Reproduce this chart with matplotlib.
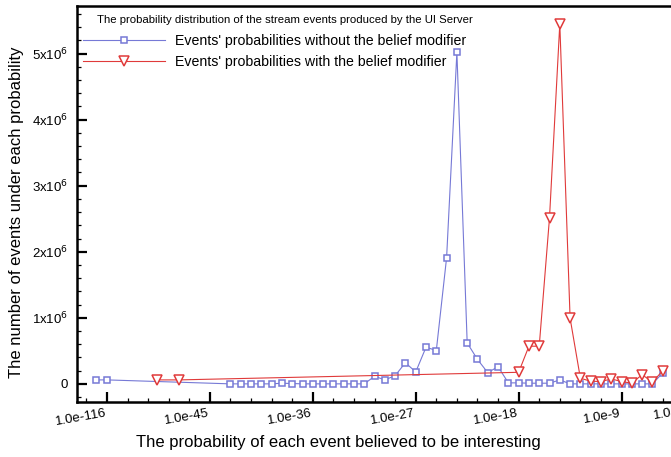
import matplotlib
matplotlib.use("Agg")
import matplotlib.pyplot as plt
from matplotlib.ticker import MultipleLocator, FixedLocator, FuncFormatter
import numpy as np

plt.rcParams["font.family"] = ["Liberation Sans", "DejaVu Sans"]

# x is the decade position on the chart's own axis (one major step = 9 decades)
blue_x_left = [-55.0, -54.0]
blue_y_left = [0.06e6, 0.06e6]
blue_x_main = [-43.2 + 0.9 * k for k in range(43)]
blue_y_main = [0, 0, 0, 0, 0, 0.01e6, 0.005e6, 0, 0, 0, 0, 0, 0, 0,
               0.115e6, 0.06e6, 0.125e6, 0.32e6, 0.18e6, 0.555e6, 0.505e6,
               1.91e6, 5.02e6, 0.62e6, 0.37e6, 0.17e6, 0.26e6,
               0.015e6, 0.015e6, 0.01e6, 0.01e6, 0.01e6, 0.06e6,
               0, 0, 0, 0, 0, 0, 0, 0, 0, 0.165e6]
blue_x = blue_x_left + blue_x_main
blue_y = blue_y_left + blue_y_main

red_x_left = [-49.6, -47.7]
red_y_left = [0.06e6, 0.06e6]
red_x_main = [-18.0 + 0.9 * k for k in range(15)]
red_y_main = [0.175e6, 0.57e6, 0.57e6, 2.515e6, 5.45e6, 0.995e6, 0.085e6,
              0.04e6, 0.035e6, 0.075e6, 0.035e6, 0.01e6, 0.14e6, 0.025e6, 0.2e6]
red_x = red_x_left + red_x_main
red_y = red_y_left + red_y_main

xtick_pos = [-54, -45, -36, -27, -18, -9, -4.5]
xtick_labels = ["1.0e-116", "1.0e-45", "1.0e-36", "1.0e-27", "1.0e-18", "1.0e-9", "1.0"]

legend_title = "The probability distribution of the stream events produced by the UI Server"
label_blue = "Events' probabilities without the belief modifier"
label_red = "Events' probabilities with the belief modifier"

blue = "#7679d6"
red = "#e03a3a"

W, H = 671, 457
fig = plt.figure(figsize=(W / 100, H / 100), dpi=100)
left, right, top, bottom = 76.7, 673.0, 6.0, 401.7
ax = fig.add_axes([left / W, 1 - bottom / H, (right - left) / W, (bottom - top) / H])

ax.plot(blue_x, blue_y, color=blue, lw=0.8, marker="s", markersize=4.2,
        markerfacecolor="white", markeredgecolor=blue, markeredgewidth=1.1,
        label=label_blue)
ax.plot(red_x, red_y, color=red, lw=0.8, marker="v", markersize=6.5,
        markerfacecolor="white", markeredgecolor=red, markeredgewidth=1.1,
        label=label_red)

ax.set_xlim(-56.65, -4.5)
ax.set_ylim(-0.27e6, 5.72e6)

ax.xaxis.set_major_locator(FixedLocator(xtick_pos))
ax.set_xticklabels(xtick_labels, rotation=10, ha="right", fontsize=9.5)
ax.xaxis.set_minor_locator(MultipleLocator(1.8))

ax.yaxis.set_major_locator(MultipleLocator(1e6))
ax.yaxis.set_minor_locator(MultipleLocator(0.2e6))
ax.yaxis.set_major_formatter(FuncFormatter(
    lambda v, p: "0" if abs(v) < 1 else "%dx10$^{6}$" % round(v / 1e6)))

ax.tick_params(which="major", direction="in", length=7, width=1.6, labelsize=9.5)
ax.tick_params(which="minor", direction="in", length=3, width=0.9)
ax.tick_params(axis="x", pad=4)
ax.tick_params(axis="y", pad=6)
ax.tick_params(top=False, right=False, which="both")
for s in ax.spines.values():
    s.set_linewidth(1.8)

fig.text(97 / W, 1 - 20 / H, legend_title, fontsize=8.2, ha="left", va="center")
ax.legend(loc="upper left", bbox_to_anchor=((83 - left) / (right - left), (bottom - 34) / (bottom - top)),
          frameon=False, fontsize=10.2, handlelength=5.8, handletextpad=0.7,
          labelspacing=0.5, borderaxespad=0, borderpad=0, numpoints=1)

fig.text(338 / W, 1 - 443 / H, "The probability of each event believed to be interesting",
         fontsize=12, ha="center", va="center")
fig.text(17 / W, 1 - 212 / H, "The number of events under each probability",
         fontsize=12, ha="center", va="center", rotation=90)

fig.savefig("out.png", dpi=100)
